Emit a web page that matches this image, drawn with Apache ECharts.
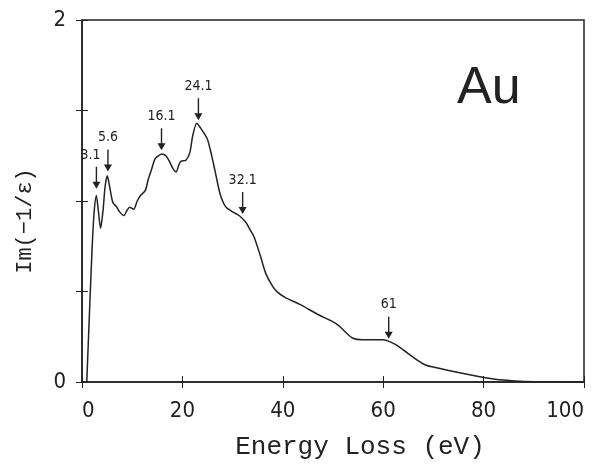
<!DOCTYPE html>
<html>
<head>
<meta charset="utf-8">
<script src="https://cdn.jsdelivr.net/npm/echarts@6/dist/echarts.min.js"></script>
<style>
  html, body { margin: 0; padding: 0; background: #fff; }
  #chart { width: 598px; height: 464px; }
</style>
</head>
<body>
<div id="chart"></div>
<script>
// energy loss (eV) and Im(-1/eps)
const energy = [0.95, 1.3, 1.67, 2.1, 2.45, 2.86, 3.2, 3.7, 4.2, 4.6, 5.05, 5.5, 6.16, 6.83, 7.5, 8.35, 9.0, 9.5, 10.3, 11.0,
  11.66, 12.6, 13.2, 13.8, 14.5, 15.0, 15.9, 16.7, 17.4, 18.1, 18.75, 19.3, 19.75, 20.7, 21.5, 22.05, 22.85, 23.7, 24.3, 25.0,
  25.5, 26.0, 26.7, 27.4, 28.0, 28.7, 30.0, 31.3, 32.7, 33.5, 34.3, 35.5, 36.6, 37.95, 39.0, 40.6, 43.3, 47.2, 49.5, 51.2,
  52.5, 53.85, 55.8, 58.0, 60.1, 61.5, 63.1, 65.8, 68.4, 71.1, 75.0, 79.0, 82.3, 86.3, 90.0, 100.0]
const lossFn = [0, 0.25, 0.51, 0.79, 0.95, 1.03, 0.96, 0.85, 0.95, 1.08, 1.14, 1.08, 0.99, 0.97, 0.94, 0.92, 0.95, 0.965, 0.955, 1.0,
  1.03, 1.057, 1.12, 1.17, 1.23, 1.245, 1.26, 1.25, 1.22, 1.18, 1.16, 1.2, 1.22, 1.225, 1.27, 1.36, 1.43, 1.40, 1.375, 1.34,
  1.29, 1.23, 1.14, 1.05, 1.0, 0.965, 0.94, 0.92, 0.88, 0.84, 0.80, 0.70, 0.60, 0.53, 0.495, 0.465, 0.43, 0.37, 0.34, 0.31,
  0.275, 0.243, 0.233, 0.234, 0.233, 0.22, 0.196, 0.14, 0.094, 0.076, 0.052, 0.03, 0.015, 0.006, 0.002, 0]

// peak arrows: label, arrow x, arrow tip y
const peakLabels = ['3.1', '5.6', '16.1', '24.1', '32.1', '61']
const peakX = [2.87, 5.17, 15.84, 23.19, 32.0, 61.1]
const peakY = [1.067, 1.163, 1.28, 1.446, 0.928, 0.239]

const xTicks = [0, 20, 40, 60, 80, 100]
const yTickLabels = [0, 2]

const ink = '#222'
const font = '"DejaVu Sans Condensed", "Liberation Sans Narrow", sans-serif'
const wideFont = '"Liberation Mono", "DejaVu Sans Mono", monospace'
const arrow = 'path://M4.3,0 L5.7,0 L5.7,15 L9,15 L5,22 L1,15 L4.3,15 Z'

const chart = echarts.init(document.getElementById('chart'))

chart.setOption({
  animation: false,
  title: {
    text: 'Au',
    left: 452,
    top: 58,
    textStyle: { fontSize: 52, fontWeight: 'normal', color: ink, fontFamily: 'Liberation Sans, sans-serif' }
  },
  grid: {
    left: 82, right: 14, top: 20, bottom: 82,
    outerBoundsMode: 'none', containLabel: false,
    show: true, borderColor: ink, borderWidth: 1.5, backgroundColor: 'transparent'
  },
  xAxis: [
    {
      type: 'value', min: 0, max: 100, interval: 20,
      name: 'Energy Loss (eV)', nameLocation: 'middle', nameGap: 52,
      nameTextStyle: { fontSize: 26, color: ink, fontFamily: wideFont, padding: [0, 0, 0, 54] },
      axisLine: { lineStyle: { color: ink, width: 1.5 } },
      axisTick: { inside: true, length: 6, lineStyle: { color: ink } },
      axisLabel: {
        fontSize: 22, color: ink, fontFamily: font, margin: 18,
        alignMinLabel: 'left', alignMaxLabel: 'right',
        formatter: v => (xTicks.includes(v) ? String(v) : '')
      },
      splitLine: { show: false }
    },
    {
      type: 'value', position: 'top', min: 0, max: 100, interval: 20,
      axisLine: { show: false },
      axisTick: { inside: true, length: 6, lineStyle: { color: ink } },
      axisLabel: { show: false },
      splitLine: { show: false }
    }
  ],
  yAxis: [
    {
      type: 'value', min: 0, max: 2, interval: 0.5,
      name: 'Im(\u22121/\u03b5)', nameLocation: 'middle', nameGap: 46, nameRotate: 90,
      nameTextStyle: { fontSize: 22, color: ink, fontFamily: wideFont, padding: [0, 40, 0, 0] },
      axisLine: { show: true, lineStyle: { color: ink, width: 1.5 } },
      axisTick: { show: true, inside: true, length: 6, lineStyle: { color: ink } },
      axisLabel: {
        fontSize: 22, color: ink, fontFamily: font, margin: 16,
        formatter: v => (yTickLabels.includes(v) ? String(v) : '')
      },
      splitLine: { show: false }
    },
    {
      type: 'value', position: 'right', min: 0, max: 2, interval: 0.5,
      axisLine: { show: false },
      axisTick: { show: true, inside: true, length: 6, lineStyle: { color: ink } },
      axisLabel: { show: false },
      splitLine: { show: false }
    }
  ],
  series: [
    {
      type: 'line',
      data: energy.map((e, i) => [e, lossFn[i]]),
      smooth: 0.25,
      symbol: 'none',
      lineStyle: { color: ink, width: 1.5 },
      markPoint: {
        symbol: arrow,
        symbolSize: [8, 22],
        symbolOffset: [0, '-50%'],
        itemStyle: { color: ink },
        label: {
          show: true, position: 'top', distance: 5,
          fontSize: 14, color: ink, fontFamily: font,
          formatter: p => p.name
        },
        data: peakLabels.map((name, i) => ({
          name,
          coord: [peakX[i], peakY[i]],
          label: i === 0 ? { offset: [-6, 0] } : {}
        }))
      }
    }
  ]
})
</script>
</body>
</html>
